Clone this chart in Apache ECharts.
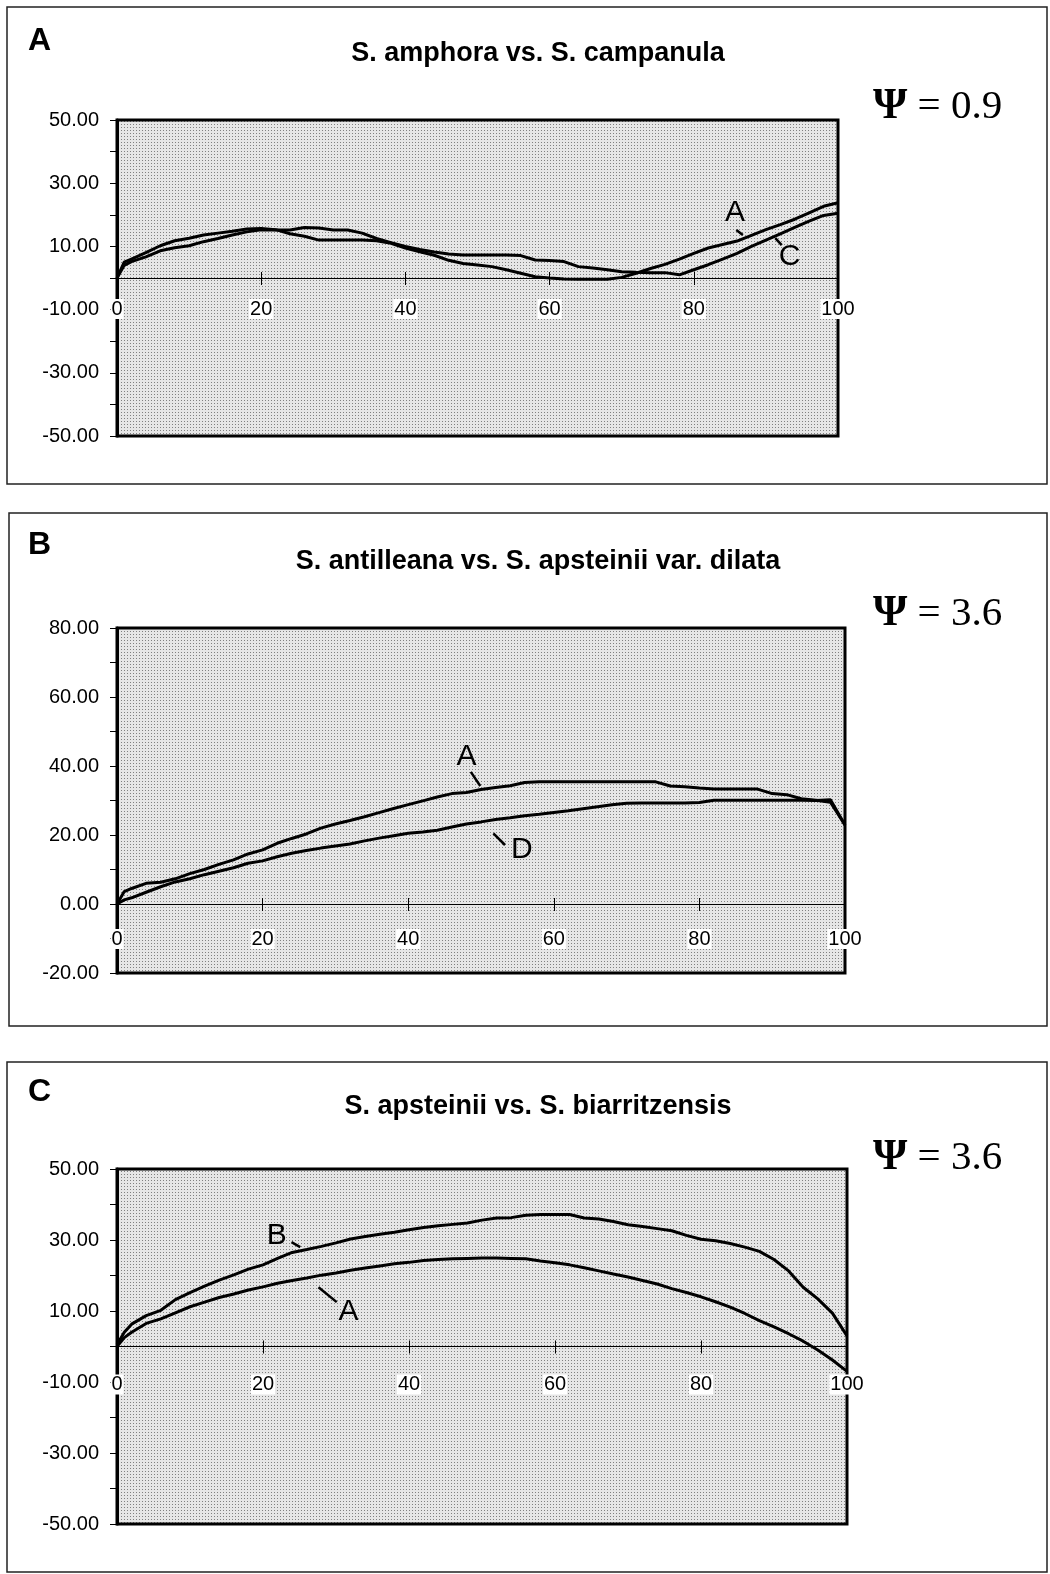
<!DOCTYPE html>
<html>
<head>
<meta charset="utf-8">
<script src="https://cdn.jsdelivr.net/npm/echarts@6/dist/echarts.min.js"></script>
<style>
  html, body { margin: 0; padding: 0; background: #fff; }
  #chart { width: 1050px; height: 1574px; }
</style>
</head>
<body>
<div id="chart"></div>
<script>
// x positions shared by all three panels
var xs = [0, 1, 2, 4, 6, 8, 10, 12, 14, 16, 18, 20, 22, 24, 26, 28, 30, 32, 34, 36, 38, 40,
  42, 44, 46, 48, 50, 52, 54, 56, 58, 60, 62, 64, 66, 68, 70, 72, 74, 76, 78, 80,
  82, 84, 86, 88, 90, 92, 94, 96, 98, 100];

// panel A: S. amphora vs. S. campanula
var amphoraA = [0, 5, 6, 8, 10.2, 11.8, 12.6, 13.6, 14.2, 14.8, 15.5, 15.7, 15.3, 14, 13.2, 12, 12, 12, 12, 11.8, 11, 9.5,
  8.3, 7.2, 5.6, 4.6, 4.1, 3.6, 2.6, 1.5, 0.4, 0, -0.3, -0.4, -0.4, -0.4, 0.2, 1.5, 3, 4.3, 6, 7.8,
  9.5, 10.6, 11.7, 13.5, 15.3, 16.9, 18.6, 20.6, 22.7, 23.8];
var campanulaC = [0, 4, 5.2, 6.7, 8.6, 9.6, 10.2, 11.5, 12.5, 13.6, 14.6, 15.3, 15.2, 15.2, 16, 15.8, 15.2, 15.2, 14.2, 12.5, 11.2, 10,
  9, 8.2, 7.6, 7.3, 7.3, 7.3, 7.3, 7.1, 5.7, 5.5, 5.2, 3.6, 3.2, 2.6, 2, 1.8, 1.7, 1.7, 1, 2.6,
  4.2, 6, 7.8, 10, 12, 14, 16, 18, 19.8, 20.5];

// panel B: S. antilleana vs. S. apsteinii var. dilata
var antilleanaA = [0, 3.6, 4.5, 6, 6.3, 7.3, 8.8, 10, 11.5, 12.8, 14.5, 15.7, 17.6, 19, 20.3, 22, 23.2, 24.2, 25.3, 26.5, 27.7, 28.8,
  29.9, 31, 32, 32.3, 33.2, 33.8, 34.3, 35.2, 35.4, 35.4, 35.4, 35.4, 35.4, 35.4, 35.4, 35.4, 35.4, 34.2, 34, 33.6,
  33.3, 33.3, 33.3, 33.3, 32, 31.7, 30.5, 30.1, 29.5, 22.9];
var dilataD = [0, 1.2, 1.8, 3.4, 5, 6.4, 7.3, 8.5, 9.5, 10.5, 11.8, 12.5, 13.7, 14.7, 15.5, 16.2, 16.8, 17.4, 18.3, 19.1, 19.8, 20.5,
  20.9, 21.4, 22.3, 23.2, 23.8, 24.5, 25, 25.6, 26, 26.5, 27, 27.6, 28.2, 28.8, 29.2, 29.3, 29.3, 29.3, 29.3, 29.4,
  30.1, 30.1, 30.1, 30.1, 30.1, 30.1, 30.1, 30, 30.2, 22.9];

// panel C: S. apsteinii vs. S. biarritzensis
var biarritzB = [0.5, 4, 6.3, 8.7, 10.2, 13.2, 15.2, 17, 18.7, 20.2, 21.8, 23, 24.8, 26.5, 27.3, 28.2, 29.2, 30.3, 31, 31.6, 32.2, 32.9,
  33.5, 34, 34.4, 34.8, 35.6, 36.2, 36.3, 37, 37.2, 37.2, 37.2, 36.2, 35.9, 35.2, 34.3, 33.8, 33.2, 32.6, 31.3, 30.2,
  29.8, 29, 28, 26.8, 24.5, 21.3, 16.7, 13.4, 9.4, 3];
var apsteiniiA = [0, 2.5, 4, 6.5, 7.8, 9.5, 11.2, 12.5, 13.8, 14.8, 15.9, 16.8, 17.8, 18.6, 19.3, 20.1, 20.7, 21.5, 22.1, 22.7, 23.3, 23.7,
  24.2, 24.5, 24.7, 24.8, 24.9, 24.9, 24.8, 24.7, 24.1, 23.6, 23, 22.2, 21.3, 20.4, 19.6, 18.6, 17.6, 16.3, 15.2, 14,
  12.6, 11.1, 9.3, 7.3, 5.5, 3.6, 1.5, -1, -3.8, -7];

var panelLetters = ["A", "B", "C"];
var panelTitles = [
  "S. amphora vs. S. campanula",
  "S. antilleana vs. S. apsteinii var. dilata",
  "S. apsteinii vs. S. biarritzensis"
];
var psiValues = ["0.9", "3.6", "3.6"];
var yMins = [-50, -20, -50];
var yMaxs = [50, 80, 50];
var curves = [[amphoraA, campanulaC], [antilleanaA, dilataD], [apsteiniiA, biarritzB]];

// curve letters: [text, x, y] and leader [x1, y1, x2, y2]
var curveTags = [
  [["A", 85.7, 20.6, 85.9, 15.2, 86.8, 13.6], ["C", 93.3, 6.7, 91.3, 12.6, 92.2, 10.4]],
  [["A", 48, 42.7, 48.6, 38.3, 49.9, 34.2], ["D", 55.6, 15.7, 51.7, 20.5, 53.3, 17.1]],
  [["A", 31.7, 9.7, 27.6, 16.7, 30.1, 12.5], ["B", 21.9, 31.3, 23.9, 29.4, 25.1, 28]]
];

// layout of the three panels (pixels)
var grids = [
  { left: 117, top: 120, width: 721, height: 316 },
  { left: 117, top: 628, width: 728, height: 345 },
  { left: 117, top: 1169, width: 730, height: 355 }
];
var boxes = [[7, 7, 1040, 477], [9, 513, 1038, 513], [7, 1062, 1040, 510]];
var letterTops = [20, 524, 1071];
var titleTops = [35, 543, 1088];
var psiTops = [80, 587, 1131];
var xLabelMargins = [21, 25, 28];

// dotted grey plot background
function dotPattern() {
  var c = document.createElement("canvas");
  c.width = 3;
  c.height = 3;
  var ctx = c.getContext("2d");
  ctx.fillStyle = "#e6e6e6";
  ctx.fillRect(0, 0, 3, 3);
  ctx.fillStyle = "#808080";
  ctx.fillRect(1, 1, 1, 1);
  return { image: c, repeat: "repeat" };
}

var pattern = dotPattern();
var option = {
  animation: false,
  backgroundColor: "#fff",
  title: [],
  grid: [],
  xAxis: [],
  yAxis: [],
  series: [],
  graphic: []
};

for (var i = 0; i < 3; i++) {
  var span = yMaxs[i] - yMins[i];

  option.graphic.push({
    type: "rect",
    shape: { x: boxes[i][0], y: boxes[i][1], width: boxes[i][2], height: boxes[i][3] },
    style: { fill: null, stroke: "#222", lineWidth: 1.5 },
    z: -1
  });
  option.title.push({
    text: panelLetters[i],
    left: 23,
    top: letterTops[i],
    textStyle: { fontFamily: "Liberation Sans", fontWeight: "bold", fontSize: 32, color: "#000" }
  });
  option.title.push({
    text: panelTitles[i],
    left: 533,
    top: titleTops[i],
    textAlign: "center",
    textStyle: { fontFamily: "Liberation Sans", fontWeight: "bold", fontSize: 27, color: "#000" }
  });
  option.title.push({
    text: "{p|Ψ} = " + psiValues[i],
    left: 868,
    top: psiTops[i],
    textStyle: {
      fontFamily: "Liberation Serif", fontWeight: "normal", fontSize: 41, color: "#000",
      rich: { p: { fontFamily: "Liberation Serif", fontWeight: "bold", fontSize: 44, color: "#000" } }
    }
  });

  option.grid.push({
    left: grids[i].left, top: grids[i].top, width: grids[i].width, height: grids[i].height,
    show: true, backgroundColor: pattern, borderColor: "#000", borderWidth: 3
  });

  // zero line with ticks below (shifted up from the bottom edge to y = 0)
  option.xAxis.push({
    gridIndex: i, type: "value", min: 0, max: 100, interval: 20, position: "bottom",
    offset: -grids[i].height * (0 - yMins[i]) / span,
    axisLine: { onZero: false, lineStyle: { color: "#000", width: 1 } },
    axisTick: { length: 7, lineStyle: { color: "#000", width: 1 } },
    axisLabel: {
      margin: xLabelMargins[i], fontFamily: "Liberation Sans", fontSize: 20, color: "#000",
      backgroundColor: "#fff", padding: [0, 1]
    },
    splitLine: { show: false }
  });
  // same line again, ticks pointing up
  option.xAxis.push({
    gridIndex: i, type: "value", min: 0, max: 100, interval: 20, position: "top",
    offset: -grids[i].height * yMaxs[i] / span,
    axisLine: { onZero: false, lineStyle: { color: "#000", width: 1 } },
    axisTick: { length: 6, lineStyle: { color: "#000", width: 1 } },
    axisLabel: { show: false },
    splitLine: { show: false }
  });

  option.yAxis.push({
    gridIndex: i, type: "value", min: yMins[i], max: yMaxs[i], interval: 20,
    axisLine: { show: true, onZero: false, lineStyle: { color: "#000", width: 3 } },
    axisTick: { show: true, length: 7, lineStyle: { color: "#000", width: 1 } },
    minorTick: { show: true, splitNumber: 2, length: 7, lineStyle: { color: "#000", width: 1 } },
    axisLabel: {
      margin: 18, fontFamily: "Liberation Sans", fontSize: 20, color: "#000",
      formatter: function (v) { return v.toFixed(2); }
    },
    splitLine: { show: false }
  });

  for (var k = 0; k < 2; k++) {
    var ys = curves[i][k];
    var tag = curveTags[i][k];
    option.series.push({
      type: "line",
      xAxisIndex: 2 * i,
      yAxisIndex: i,
      symbol: "none",
      lineStyle: { color: "#000", width: 3 },
      data: xs.map(function (x, j) { return [x, ys[j]]; }),
      markPoint: {
        symbol: "circle",
        symbolSize: 1,
        itemStyle: { color: "rgba(0,0,0,0)" },
        label: {
          show: true, position: "inside", formatter: tag[0],
          fontFamily: "Liberation Sans", fontSize: 30, color: "#000"
        },
        data: [{ coord: [tag[1], tag[2]] }]
      },
      markLine: {
        silent: true,
        symbol: ["none", "none"],
        label: { show: false },
        lineStyle: { color: "#000", width: 2.5, type: "solid" },
        data: [[{ coord: [tag[3], tag[4]] }, { coord: [tag[5], tag[6]] }]]
      }
    });
  }
}

var myChart = echarts.init(document.getElementById("chart"));
myChart.setOption(option);
</script>
</body>
</html>
